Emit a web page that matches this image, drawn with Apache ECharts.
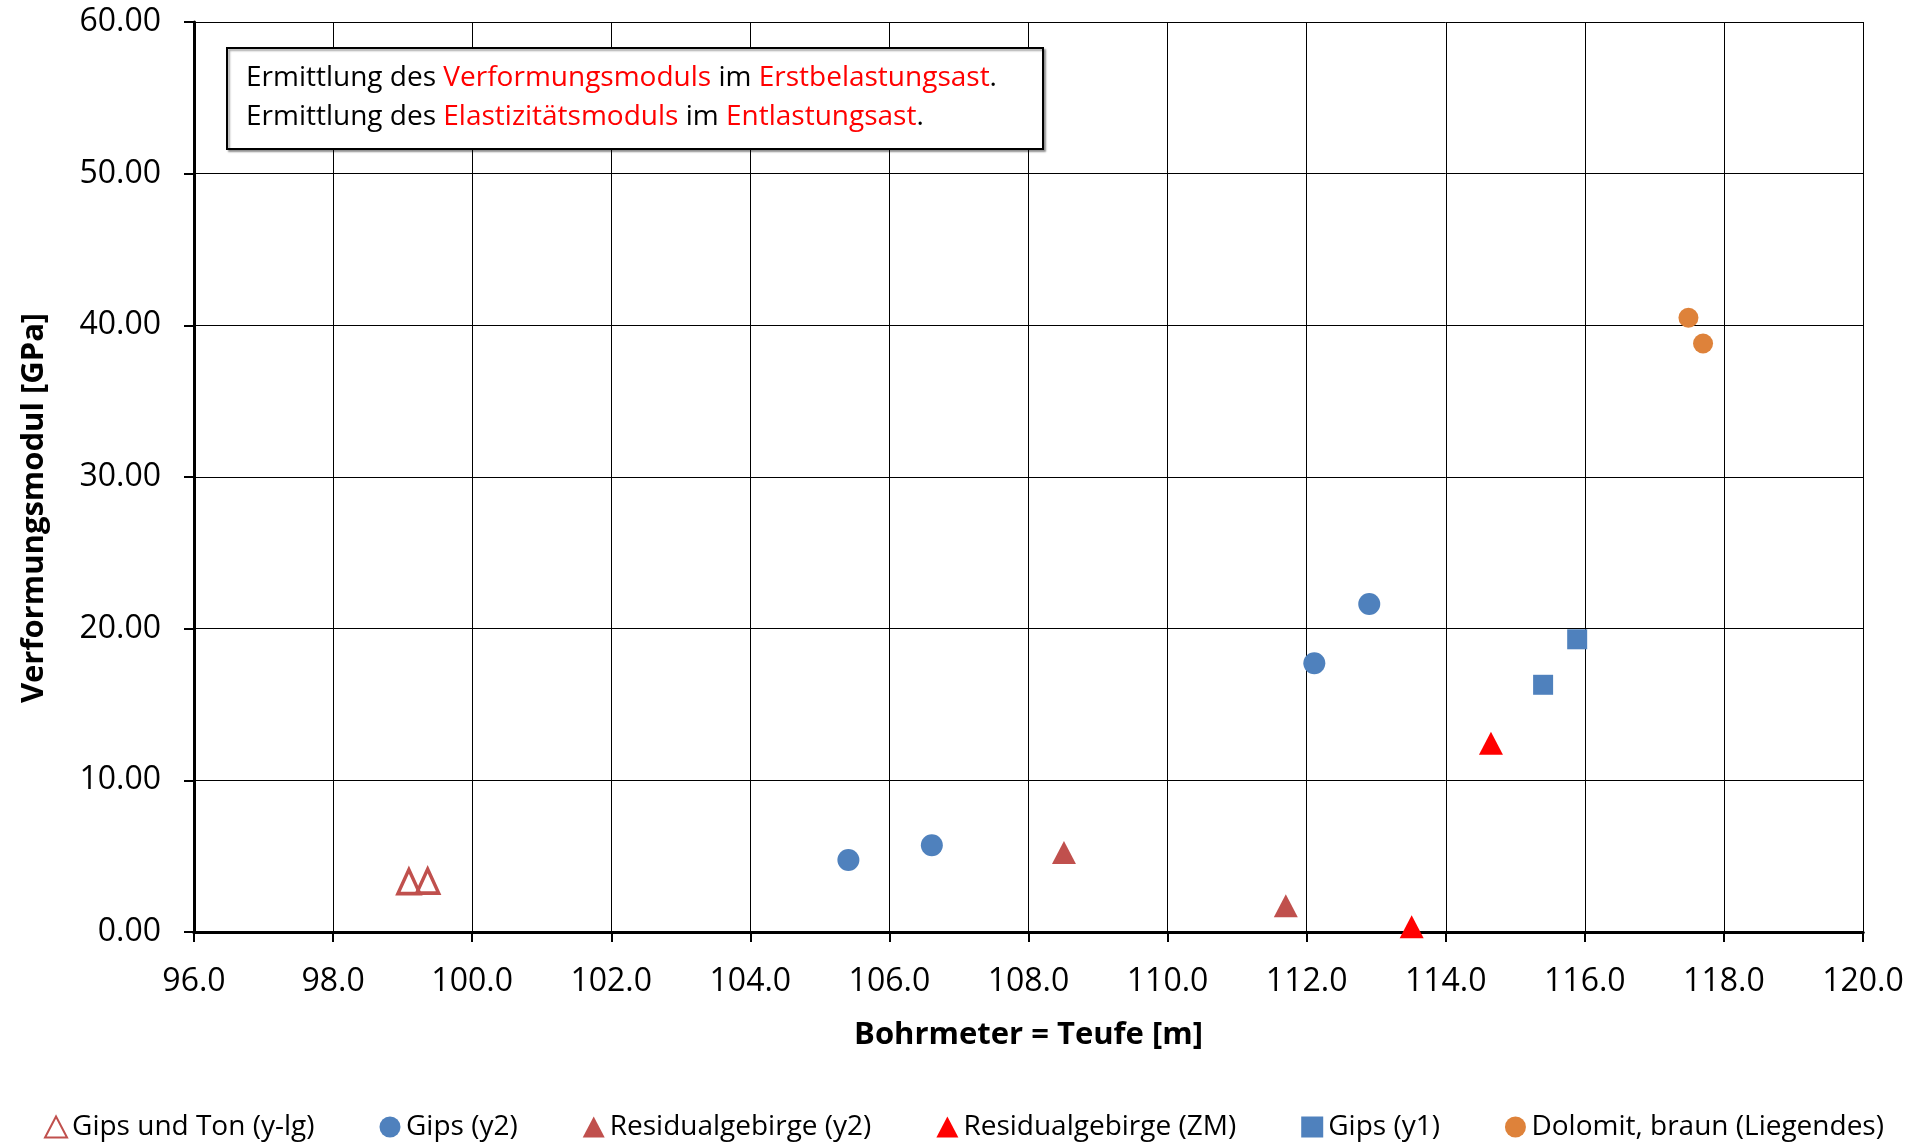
<!DOCTYPE html>
<html>
<head>
<meta charset="utf-8">
<script src="https://cdn.jsdelivr.net/npm/echarts@6/dist/echarts.min.js"></script>
<style>
html,body{margin:0;padding:0;background:#fff;}
#chart{width:1928px;height:1144px;}
</style>
</head>
<body>
<div id="chart"></div>
<script>
// ---- data ----
const seriesNames = ['Gips und Ton (y-lg)', 'Gips (y2)', 'Residualgebirge (y2)', 'Residualgebirge (ZM)', 'Gips (y1)', 'Dolomit, braun (Liegendes)'];
const gipsTonX = [99.09, 99.36];
const gipsTonY = [3.32, 3.35];
const gipsY2X = [105.41, 106.61, 112.11, 112.90];
const gipsY2Y = [4.75, 5.72, 17.72, 21.62];
const residY2X = [108.51, 111.70];
const residY2Y = [5.25, 1.73];
const residZMX = [113.51, 114.65];
const residZMY = [0.35, 12.45];
const gipsY1X = [115.40, 115.89];
const gipsY1Y = [16.3, 19.3];
const dolomitX = [117.49, 117.70];
const dolomitY = [40.5, 38.8];
const xAxisTitle = 'Bohrmeter = Teufe [m]';
const yAxisTitle = 'Verformungsmodul [GPa]';
const noteLine1 = ['Ermittlung des ', 'Verformungsmoduls', ' im ', 'Erstbelastungsast', '.'];
const noteLine2 = ['Ermittlung des ', 'Elastizitätsmoduls', ' im ', 'Entlastungsast', '.'];

function pairs(xs, ys) { return xs.map((x, i) => [x, ys[i]]); }

const FONT = '"Open Sans", "Noto Sans", sans-serif';
const chart = echarts.init(document.getElementById('chart'));

function richLine(parts) {
  return parts.map((p, i) => (i % 2 === 1 ? '{r|' + p + '}' : '{k|' + p + '}')).join('');
}

const option = {
  backgroundColor: '#ffffff',
  animation: false,
  grid: { left: 194, right: 65, top: 22, bottom: 212, containLabel: false },
  legend: {
    left: 'center',
    top: 1108,
    itemWidth: 22,
    itemHeight: 21,
    itemGap: 65,
    textStyle: { fontFamily: FONT, fontSize: 28, color: '#000', padding: [0, 0, 0, 0] },
    data: seriesNames
  },
  xAxis: [{
    type: 'value',
    min: 96, max: 120, interval: 2,
    name: xAxisTitle,
    nameLocation: 'middle',
    nameGap: 88,
    nameTextStyle: { fontFamily: FONT, fontSize: 31, fontWeight: 'bold', color: '#000' },
    axisLine: { show: true, onZero: false, lineStyle: { color: '#000', width: 3 } },
    axisTick: { show: true, length: 10, lineStyle: { color: '#000', width: 2 } },
    axisLabel: { fontFamily: FONT, fontSize: 32, color: '#000', margin: 34, formatter: v => v.toFixed(1) },
    splitLine: { show: true, lineStyle: { color: '#000', width: 1 } }
  }, {
    type: 'value',
    position: 'top',
    min: 96, max: 120, interval: 2,
    axisLine: { show: true, lineStyle: { color: '#000', width: 3 } },
    axisTick: { show: false },
    axisLabel: { show: false },
    splitLine: { show: false }
  }],
  yAxis: {
    type: 'value',
    min: 0, max: 60, interval: 10,
    name: yAxisTitle,
    nameLocation: 'middle',
    nameGap: 144,
    nameTextStyle: { fontFamily: FONT, fontSize: 31, fontWeight: 'bold', color: '#000', padding: [0, 62, 0, 0] },
    axisLine: { show: true, onZero: false, lineStyle: { color: '#000', width: 3 } },
    axisTick: { show: true, length: 10, lineStyle: { color: '#000', width: 2 } },
    axisLabel: { fontFamily: FONT, fontSize: 32, color: '#000', margin: 33, formatter: v => v.toFixed(2) },
    splitLine: { show: true, lineStyle: { color: '#000', width: 1 } }
  },
  series: [
    {
      name: seriesNames[0], type: 'scatter', symbol: 'triangle', symbolSize: [22, 24],
      itemStyle: { color: 'rgba(255,255,255,0)', borderColor: '#C0504D', borderWidth: 3.5, opacity: 1 },
      data: pairs(gipsTonX, gipsTonY), z: 5
    },
    {
      name: seriesNames[1], type: 'scatter', symbol: 'circle', symbolSize: 22,
      itemStyle: { color: '#4F81BD', opacity: 1 }, data: pairs(gipsY2X, gipsY2Y), z: 5
    },
    {
      name: seriesNames[2], type: 'scatter', symbol: 'triangle', symbolSize: [24, 23],
      itemStyle: { color: '#C0504D', opacity: 1 }, data: pairs(residY2X, residY2Y), z: 5
    },
    {
      name: seriesNames[3], type: 'scatter', symbol: 'triangle', symbolSize: [24, 23],
      itemStyle: { color: '#FF0000', opacity: 1 }, data: pairs(residZMX, residZMY), z: 5
    },
    {
      name: seriesNames[4], type: 'scatter', symbol: 'rect', symbolSize: 20,
      itemStyle: { color: '#4F81BD', opacity: 1 }, data: pairs(gipsY1X, gipsY1Y), z: 5
    },
    {
      name: seriesNames[5], type: 'scatter', symbol: 'circle', symbolSize: 20,
      itemStyle: { color: '#DE823A', opacity: 1 }, data: pairs(dolomitX, dolomitY), z: 5
    }
  ],
  graphic: [
    {
      type: 'rect', left: 226, top: 47, z: 50,
      shape: { width: 816, height: 101 },
      style: { fill: '#fff', stroke: '#000', lineWidth: 2, shadowColor: 'rgba(0,0,0,0.35)', shadowOffsetX: 2, shadowOffsetY: 2, shadowBlur: 2 }
    },
    {
      type: 'text', left: 246, top: 64, z: 51,
      style: {
        text: richLine(noteLine1) + '\n' + richLine(noteLine2),
        rich: {
          k: { fontFamily: FONT, fontSize: 28, fill: '#000', lineHeight: 39 },
          r: { fontFamily: FONT, fontSize: 28, fill: '#FF0000', lineHeight: 39 }
        }
      }
    }
  ]
};
chart.setOption(option);
</script>
</body>
</html>
